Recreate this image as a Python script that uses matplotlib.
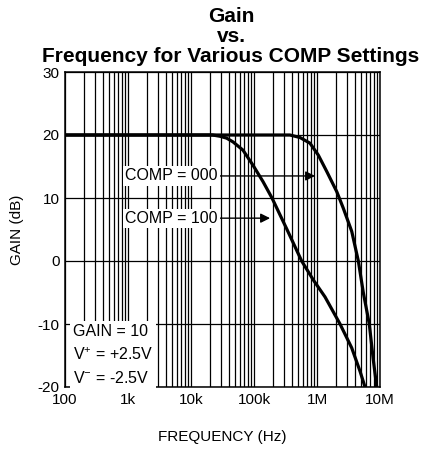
import matplotlib
matplotlib.use("Agg")
import matplotlib.pyplot as plt
import numpy as np

plt.rcParams['font.family'] = ['Liberation Sans', 'DejaVu Sans']
plt.rcParams['mathtext.fontset'] = 'custom'
plt.rcParams['mathtext.rm'] = 'Liberation Sans'
plt.rcParams['mathtext.it'] = 'Liberation Sans'
plt.rcParams['axes.unicode_minus'] = False

# curve data (Hz, dB)
freq_comp100 = [100, 1e3, 10e3, 22e3, 28.8e3, 36.8e3, 46.5e3, 66.8e3, 96.4e3, 139e3, 193e3,
                334e3, 571e3, 873e3, 1.34e6, 2.32e6, 3.56e6, 4.82e6, 5.78e6]
gain_comp100 = [20, 20, 20, 20, 19.8, 19.5, 18.9, 17.6, 15.2, 12.6, 10,
                5.0, 0, -3.0, -5.7, -10, -13.8, -17.5, -20]

freq_comp000 = [100, 1e3, 10e3, 100e3, 372e3, 447e3, 537e3, 774e3, 1.05e6, 1.43e6,
                2.06e6, 2.61e6, 3.56e6, 4.53e6, 5.43e6, 6.76e6, 7.83e6, 8.87e6]
gain_comp000 = [20, 20, 20, 20, 20, 19.8, 19.6, 18.7, 16.8, 14.2,
                11, 8.4, 4.7, 0, -5, -10, -15.7, -20]

xtick_vals = [1e2, 1e3, 1e4, 1e5, 1e6, 1e7]
xtick_labels = ['100', '1k', '10k', '100k', '1M', '10M']
ytick_vals = [-20, -10, 0, 10, 20, 30]

fig = plt.figure(figsize=(4.27, 4.53), dpi=100)
ax = fig.add_axes([65/427, 1-387/453, 315/427, 315/453])

ax.plot(freq_comp100, gain_comp100, color='k', lw=2.3, solid_joinstyle='round', zorder=3)
ax.plot(freq_comp000, gain_comp000, color='k', lw=2.3, solid_joinstyle='round', zorder=3)

ax.set_xscale('log')
ax.set_xlim(1e2, 1e7)
ax.set_ylim(-20, 30)
ax.set_xticks(xtick_vals)
ax.set_xticklabels(xtick_labels)
ax.set_yticks(ytick_vals)
ax.xaxis.set_minor_locator(matplotlib.ticker.LogLocator(base=10, subs=np.arange(2, 10)))
ax.xaxis.set_minor_formatter(matplotlib.ticker.NullFormatter())
ax.tick_params(which='both', length=0, labelsize=11, pad=4)

ax.grid(which='both', axis='x', color='k', lw=0.9)
ax.grid(which='major', axis='y', color='k', lw=0.9)
for s in ax.spines.values():
    s.set_linewidth(1.1)

ax.set_xlabel('FREQUENCY (Hz)', fontsize=11)
ax.xaxis.set_label_coords(0.5, -0.135)
ax.set_ylabel('GAIN (dB)', fontsize=11)
ax.yaxis.set_label_coords(-0.13, 0.5)

box = dict(facecolor='white', edgecolor='none', pad=1.5)
arrow = dict(arrowstyle='-|>', color='k', lw=1, mutation_scale=14, shrinkA=0, shrinkB=0)
ax.annotate('COMP = 000', xy=(933e3, 13.5), xytext=(896, 13.5), va='center',
            fontsize=11.5, bbox=box, arrowprops=arrow, zorder=4)
ax.annotate('COMP = 100', xy=(180e3, 6.8), xytext=(896, 6.8), va='center',
            fontsize=11.5, bbox=box, arrowprops=arrow, zorder=4)

ax.text(132, -10, 'GAIN = 10\nV$^{+}$ = +2.5V\nV$^{-}$ = -2.5V', va='top',
        fontsize=11.5, linespacing=1.55, bbox=dict(facecolor='white', edgecolor='none', pad=2),
        zorder=4, transform=ax.transData)

tx = 231/427
fig.text(tx, 1-22/453, 'Gain', ha='center', va='baseline', fontsize=15, fontweight='bold')
fig.text(tx, 1-42/453, 'vs.', ha='center', va='baseline', fontsize=15, fontweight='bold')
fig.text(tx, 1-62/453, 'Frequency for Various COMP Settings', ha='center', va='baseline',
         fontsize=15, fontweight='bold')

fig.savefig('out.png', dpi=100)
